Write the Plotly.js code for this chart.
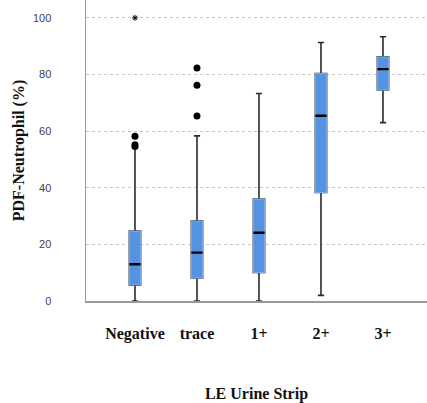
<!DOCTYPE html>
<html><head><meta charset="utf-8">
<script src="https://cdn.plot.ly/plotly-3.0.1.min.js"></script>
<style>html,body{margin:0;padding:0;background:#fff}#chart{width:427px;height:403px}</style>
</head><body><div id="chart"></div>
<script>
const categories = ["Negative", "trace", "1+", "2+", "3+"];
const lowerWhisker = [0, 0, 0, 2, 63];
const q1 = [5.7, 8.1, 10.1, 38.3, 74.5];
const median = [13, 17.1, 24.1, 65.4, 81.9];
const q3 = [24.7, 28.2, 36, 80.3, 86.2];
const upperWhisker = [54, 58.3, 73.3, 91.3, 93.3];
const outlierCats = ["Negative", "Negative", "Negative", "trace", "trace", "trace"];
const outlierVals = [58.2, 55.2, 54.6, 82.3, 76.2, 65.3];
const extremeCats = ["Negative"];
const extremeVals = [100];

const blue = "#5393e2";
const traces = [
  {type: "box", x: categories, q1: q1, median: median, q3: q3,
   lowerfence: lowerWhisker, upperfence: upperWhisker,
   fillcolor: blue, line: {color: "#2b2b2b", width: 1.6},
   whiskerwidth: 0.55, boxpoints: false, hoverinfo: "skip", showlegend: false},
  {type: "box", x: categories, q1: q1, median: median, q3: q3,
   lowerfence: q1, upperfence: q3,
   fillcolor: blue, line: {color: "#86b1ec", width: 1},
   whiskerwidth: 0, boxpoints: false, hoverinfo: "skip", showlegend: false},
  {type: "box", x: categories, q1: median, median: median, q3: median,
   lowerfence: median, upperfence: median,
   fillcolor: "rgba(0,0,0,0)", line: {color: "#000", width: 2.4},
   whiskerwidth: 0, boxpoints: false, hoverinfo: "skip", showlegend: false},
  {type: "scatter", mode: "markers", x: outlierCats, y: outlierVals,
   marker: {symbol: "circle", size: 7, color: "#000"}, showlegend: false},
  {type: "scatter", mode: "markers", x: extremeCats, y: extremeVals,
   marker: {symbol: "asterisk-open", size: 5, color: "#000", line: {color: "#222", width: 1}}, showlegend: false}
];

const layout = {
  width: 427, height: 403,
  margin: {l: 86, r: 0, t: 0, b: 102},
  paper_bgcolor: "#fff", plot_bgcolor: "#fff",
  boxmode: "overlay", boxgap: 0.74,
  showlegend: false,
  xaxis: {
    type: "category", range: [-0.79, 4.71],
    showgrid: false, zeroline: false,
    showline: true, linecolor: "#9a9a9a", linewidth: 1.5,
    ticks: "", ticklabelstandoff: 17,
    tickfont: {family: "Liberation Serif", size: 16, color: "#111", weight: "bold"},
    title: {text: "LE Urine Strip", standoff: 46,
            font: {family: "Liberation Serif", size: 16, color: "#111", weight: "bold"}},
    fixedrange: true
  },
  yaxis: {
    range: [0, 106.3], tickvals: [0, 20, 40, 60, 80, 100],
    showgrid: true, gridcolor: "#c8c8c8", griddash: "dot", gridwidth: 1,
    zeroline: false, showline: true, linecolor: "#9a9a9a", linewidth: 1.5,
    ticks: "", ticklabelstandoff: 31,
    tickfont: {family: "Liberation Sans", size: 11, color: "#444"},
    title: {text: "PDF-Neutrophil (%)", standoff: 4,
            font: {family: "Liberation Serif", size: 16, color: "#111", weight: "bold"}},
    fixedrange: true
  }
};
Plotly.newPlot("chart", traces, layout, {displayModeBar: false, staticPlot: true});
</script></body></html>
